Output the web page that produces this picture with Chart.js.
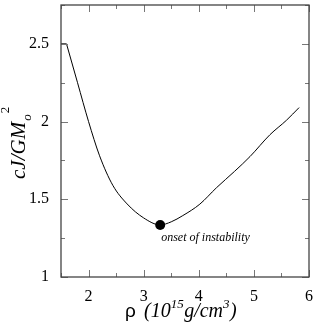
<!DOCTYPE html>
<html><head><meta charset="utf-8">
<script src="https://cdn.jsdelivr.net/npm/chart.js@4.4.1/dist/chart.umd.min.js"></script>
<style>html,body{margin:0;padding:0;background:#fff;overflow:hidden}</style>
</head><body>
<canvas id="c" width="316" height="327"></canvas>
<script>
// ---- data ----
const flatRho = [1.5, 1.6];
const flatCJ  = [2.5, 2.5];
const rho = [1.6, 1.8, 2.0, 2.2, 2.44, 2.7, 3.0, 3.3, 3.5, 3.71, 4.02, 4.32, 4.65, 4.93, 5.29, 5.59, 5.82];
const cJ  = [2.5, 2.25, 2.0, 1.78, 1.59, 1.47, 1.38, 1.335, 1.355, 1.395, 1.469, 1.574, 1.68, 1.775, 1.915, 2.008, 2.09];
const markerRho = [3.3];
const markerCJ = [1.335];
const markerLabel = 'onset of instability';
const xTickLabels = [2, 3, 4, 5, 6];
const yTickLabels = [1, 1.5, 2, 2.5];

const SERIF = "'Liberation Serif','Times New Roman',serif";

function isLabelled(list, v) { return list.some(t => Math.abs(t - v) < 1e-6); }

const framePlugin = {
  id: 'frame',
  afterDatasetsDraw(chart) {
    const ctx = chart.ctx, a = chart.chartArea;
    const xs = chart.scales.x, ys = chart.scales.y;
    ctx.save();
    ctx.strokeStyle = '#777';
    ctx.lineWidth = 1;
    ctx.beginPath();
    xs.ticks.forEach(t => {
      const p = Math.round(xs.getPixelForValue(t.value)) + 0.5;
      const L = isLabelled(xTickLabels, t.value) ? 7 : 4;
      ctx.moveTo(p, a.bottom); ctx.lineTo(p, a.bottom - L);
      ctx.moveTo(p, a.top); ctx.lineTo(p, a.top + L);
    });
    ys.ticks.forEach(t => {
      const p = Math.round(ys.getPixelForValue(t.value)) + 0.5;
      const L = isLabelled(yTickLabels, t.value) ? 7 : 4;
      ctx.moveTo(a.left, p); ctx.lineTo(a.left + L, p);
      ctx.moveTo(a.right, p); ctx.lineTo(a.right - L, p);
    });
    ctx.stroke();
    ctx.strokeStyle = '#444';
    ctx.lineWidth = 1.3;
    ctx.strokeRect(a.left, a.top, a.right - a.left, a.bottom - a.top);

    const mx = xs.getPixelForValue(markerRho[0]);
    const my = ys.getPixelForValue(markerCJ[0]);
    ctx.fillStyle = '#000';
    ctx.font = "italic 12px " + SERIF;
    ctx.textBaseline = 'alphabetic';
    ctx.textAlign = 'left';
    ctx.fillText(markerLabel, mx + 1, my + 16);

    let x = 125, base = 317;
    ctx.font = "19px 'Liberation Sans','DejaVu Sans',sans-serif";
    ctx.fillText('ρ', x, base);
    x = 144;
    const big = "italic 20px " + SERIF, small = "italic 13px " + SERIF;
    const parts = [['(10', big, 0], ['15', small, -9], ['g/cm', big, 0], ['3', small, -9], [')', big, 0]];
    parts.forEach(([s, f, dy]) => { ctx.font = f; ctx.fillText(s, x, base + dy); x += ctx.measureText(s).width + (dy ? 0.5 : 0); });

    ctx.translate(25, 179);
    ctx.rotate(-Math.PI / 2);
    let lx = 0;
    const yparts = [['cJ/GM', "italic 21px " + SERIF, 0], ['o', "italic 13px " + SERIF, 6], ['2', "13px " + SERIF, -16]];
    yparts.forEach(([s, f, dy]) => { ctx.font = f; ctx.fillText(s, lx, dy); lx += ctx.measureText(s).width + 1; });
    ctx.restore();
  }
};

const flatPts = flatRho.map((r, i) => ({ x: r, y: flatCJ[i] }));
const pts = rho.map((r, i) => ({ x: r, y: cJ[i] }));
const mpts = markerRho.map((r, i) => ({ x: r, y: markerCJ[i] }));

new Chart(document.getElementById('c'), {
  type: 'line',
  data: {
    datasets: [
      { data: flatPts, borderColor: '#000', borderWidth: 1, pointRadius: 0, fill: false },
      { data: pts, borderColor: '#000', borderWidth: 1, pointRadius: 0, fill: false,
        cubicInterpolationMode: 'monotone' },
      { data: mpts, showLine: false, pointRadius: 5, pointBackgroundColor: '#000',
        pointBorderColor: '#000', pointBorderWidth: 0 }
    ]
  },
  options: {
    responsive: false,
    devicePixelRatio: 1,
    animation: false,
    layout: { padding: { top: 1, right: 7, left: 0, bottom: 0 } },
    plugins: { legend: { display: false }, tooltip: { enabled: false } },
    scales: {
      x: {
        type: 'linear', min: 1.5, max: 6,
        grid: { display: false }, border: { display: false },
        afterFit(s) { s.height = 50; s.paddingLeft = 0; s.paddingRight = 0; },
        ticks: {
          stepSize: 0.5, autoSkip: false, maxRotation: 0, padding: 2,
          color: '#000', font: { family: SERIF, size: 16 },
          callback: v => isLabelled(xTickLabels, v) ? String(v) : ''
        }
      },
      y: {
        type: 'linear', min: 1, max: 2.75,
        grid: { display: false }, border: { display: false },
        afterFit(s) { s.width = 61; s.paddingTop = 0; s.paddingBottom = 0; },
        ticks: {
          stepSize: 0.25, autoSkip: false, padding: 4,
          color: '#000', font: { family: SERIF, size: 16 },
          callback: v => isLabelled(yTickLabels, v) ? String(v) : ''
        }
      }
    }
  },
  plugins: [framePlugin]
});
</script>
</body></html>
